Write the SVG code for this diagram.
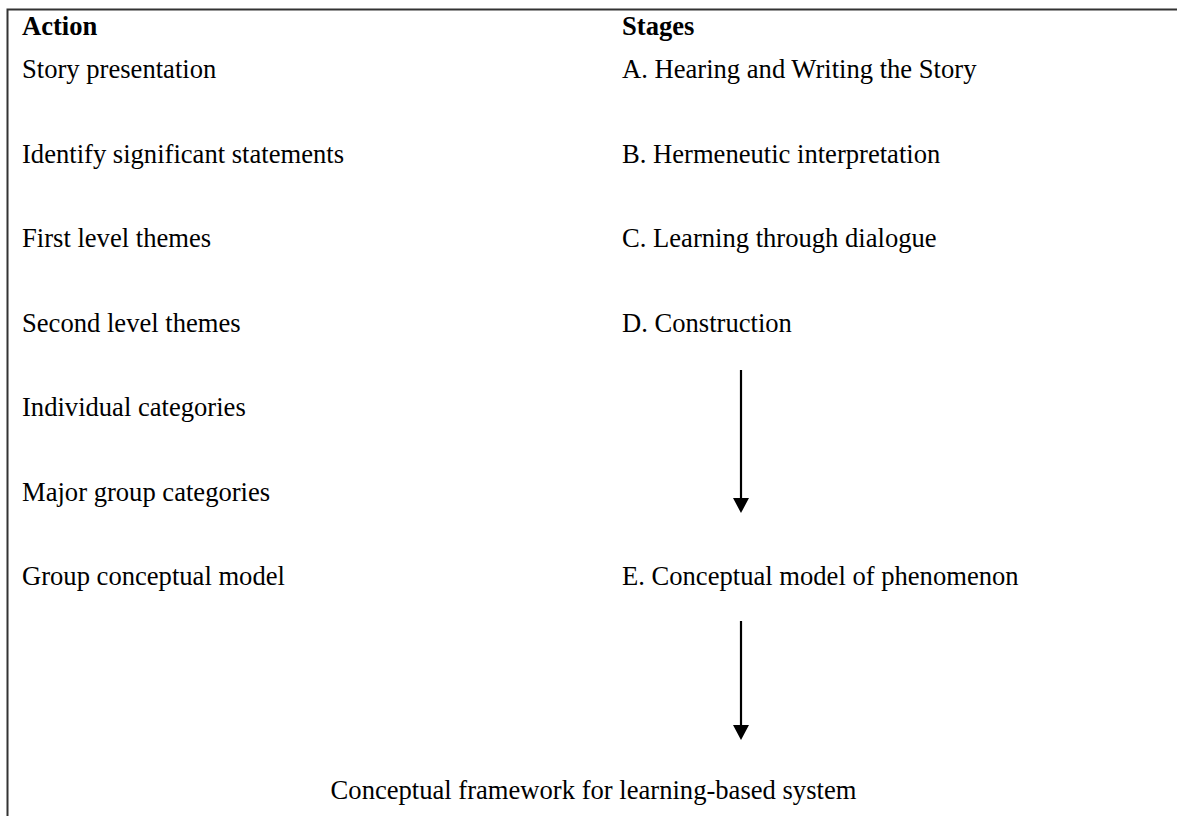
<svg xmlns="http://www.w3.org/2000/svg" width="1177" height="816" viewBox="0 0 1177 816">
<style>
  text { font-family: "Liberation Serif", "Times New Roman", serif; font-size: 26.6px; fill: #000; }
  .h { font-weight: bold; }
  .border { stroke: #333; stroke-width: 2; fill: none; }
  .conn { stroke: #000; stroke-width: 2.2; fill: none; }
  .head { fill: #000; }
</style>
<rect width="1177" height="816" fill="#fff"/>
<path class="border" d="M7.5,816 L7.5,9.5 L1177,9.5"/>
<g id="headers">
  <text class="h" x="22" y="35">Action</text>
  <text class="h" x="622" y="35">Stages</text>
</g>
<g id="actions">
  <text x="22" y="78">Story presentation</text>
  <text x="22" y="162.5">Identify significant statements</text>
  <text x="22" y="247">First level themes</text>
  <text x="22" y="331.5">Second level themes</text>
  <text x="22" y="416">Individual categories</text>
  <text x="22" y="500.5">Major group categories</text>
  <text x="22" y="585">Group conceptual model</text>
</g>
<g id="stageA"><text x="622" y="78">A. Hearing and Writing the Story</text></g>
<g id="stageB"><text x="622" y="162.5">B. Hermeneutic interpretation</text></g>
<g id="stageC"><text x="622" y="247">C. Learning through dialogue</text></g>
<g id="stageD"><text x="622" y="331.5">D. Construction</text></g>
<g id="stageE"><text x="622" y="585">E. Conceptual model of phenomenon</text></g>
<g id="framework"><text x="593.5" y="799" text-anchor="middle">Conceptual framework for learning-based system</text></g>
<g id="connectors">
  <line class="conn" x1="741" y1="370" x2="741" y2="500"/>
  <path class="head" d="M733,498 L749,498 L741,513 Z"/>
  <line class="conn" x1="741" y1="621" x2="741" y2="727"/>
  <path class="head" d="M733,725 L749,725 L741,740 Z"/>
</g>
</svg>
